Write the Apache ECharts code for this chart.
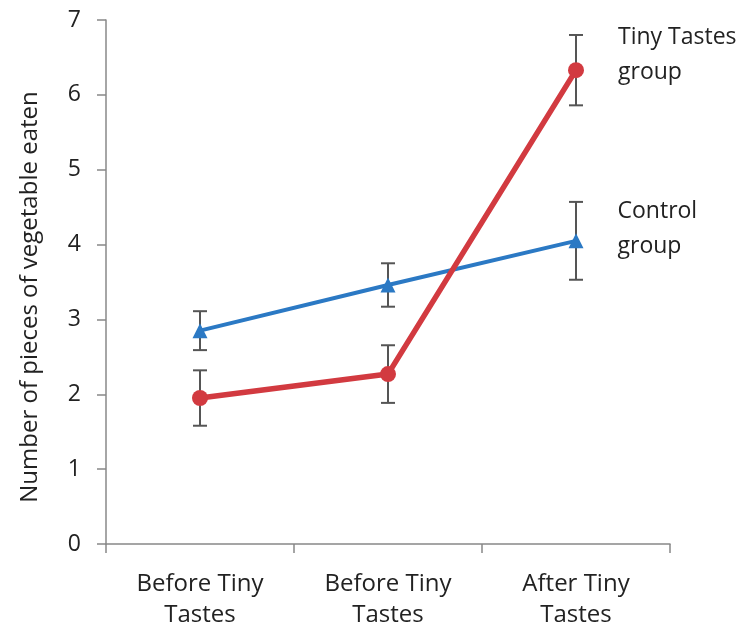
<!DOCTYPE html>
<html><head><meta charset="utf-8">
<script src="https://cdn.jsdelivr.net/npm/echarts@6/dist/echarts.min.js"></script>
<style>html,body{margin:0;padding:0;background:#fff}#c{width:755px;height:628px}</style>
</head><body><div id="c"></div>
<script>
const categories = ['Before Tiny\nTastes', 'Before Tiny\nTastes', 'After Tiny\nTastes'];
const tinyTastes = [1.95, 2.27, 6.33];
const tinyTastesErr = [0.37, 0.385, 0.47];
const control = [2.85, 3.46, 4.05];
const controlErr = [0.26, 0.29, 0.52];
const yTicks = [0, 1, 2, 3, 4, 5, 6, 7];

const FONT = 'Open Sans';
const RED = '#d23a40', BLUE = '#2b79c4', ERR = '#555555';

function errData(vals, errs) { return vals.map((v, i) => [i, v - errs[i], v + errs[i]]); }
function errRender(params, api) {
  const x = api.value(0);
  const lo = api.coord([x, api.value(1)]);
  const hi = api.coord([x, api.value(2)]);
  const w = 7;
  const st = { stroke: ERR, lineWidth: 2 };
  return { type: 'group', children: [
    { type: 'line', shape: { x1: lo[0], y1: lo[1], x2: hi[0], y2: hi[1] }, style: st },
    { type: 'line', shape: { x1: lo[0] - w, y1: lo[1], x2: lo[0] + w, y2: lo[1] }, style: st },
    { type: 'line', shape: { x1: hi[0] - w, y1: hi[1], x2: hi[0] + w, y2: hi[1] }, style: st }
  ]};
}
function withEndLabel(vals, text, dy) {
  return vals.map((v, i) => i === vals.length - 1 ? {
    value: v,
    label: { show: true, position: 'right', distance: 34, offset: [0, dy], formatter: text,
      color: '#222', fontFamily: FONT, fontSize: 23, lineHeight: 35, align: 'left' }
  } : v);
}

const chart = echarts.init(document.getElementById('c'));
chart.setOption({
  animation: false,
  grid: { left: 106, right: 85, top: 20, bottom: 84, outerBoundsMode: 'none', containLabel: false },
  xAxis: {
    type: 'category', data: categories, boundaryGap: true,
    axisLine: { lineStyle: { color: '#888', width: 1.5 } },
    axisTick: { show: true, length: 9, inside: false, lineStyle: { color: '#888', width: 1.5 } },
    axisLabel: { color: '#222', fontFamily: FONT, fontSize: 24, lineHeight: 31, margin: 25 }
  },
  yAxis: {
    type: 'value', min: yTicks[0], max: yTicks[yTicks.length - 1], interval: 1,
    name: 'Number of pieces of vegetable eaten', nameLocation: 'middle', nameGap: 64,
    nameTextStyle: { color: '#222', fontFamily: FONT, fontSize: 24, padding: [0, 30, 0, 0] },
    splitLine: { show: false },
    axisLine: { show: true, lineStyle: { color: '#888', width: 1.5 } },
    axisTick: { show: true, length: 9, lineStyle: { color: '#888', width: 1.5 } },
    axisLabel: { color: '#222', fontFamily: FONT, fontSize: 23, margin: 25 }
  },
  series: [
    { type: 'custom', name: 'ctlErr', data: errData(control, controlErr), renderItem: errRender, z: 1, silent: true },
    { type: 'custom', name: 'ttErr', data: errData(tinyTastes, tinyTastesErr), renderItem: errRender, z: 1, silent: true },
    { type: 'line', name: 'Control group', data: withEndLabel(control, 'Control\ngroup', -12),
      lineStyle: { color: BLUE, width: 4 }, itemStyle: { color: BLUE },
      symbol: 'triangle', symbolSize: 15, z: 3 },
    { type: 'line', name: 'Tiny Tastes group', data: withEndLabel(tinyTastes, 'Tiny Tastes\ngroup', -15),
      lineStyle: { color: RED, width: 5.5 }, itemStyle: { color: RED },
      symbol: 'circle', symbolSize: 16, z: 4 }
  ]
});
</script></body></html>
